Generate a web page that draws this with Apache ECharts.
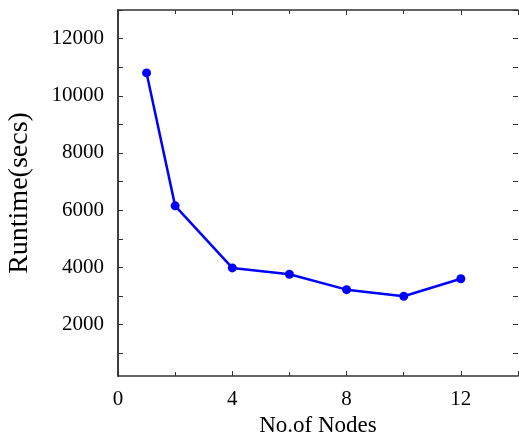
<!DOCTYPE html>
<html>
<head>
<meta charset="utf-8">
<script src="https://cdn.jsdelivr.net/npm/echarts@6/dist/echarts.min.js"></script>
<style>
  html, body { margin: 0; padding: 0; background: #fff; }
  #chart { width: 519px; height: 432px; }
</style>
</head>
<body>
<div id="chart"></div>
<script>
// runtime vs number of nodes
const nodes = [1, 2, 4, 6, 8, 10, 12];
const runtime = [10800, 6150, 3980, 3760, 3220, 2990, 3600];

const font = 'Liberation Serif';
const frame = '#333';

const yMin = 200, yMax = 13000;
// second grid only carries the y ticks/labels (1000..13000), lined up with the first
const gTop = 10, gBottom = 56;
const pxPer = (432 - gTop - gBottom) / (yMax - yMin);
const tickBottom = gBottom + (1000 - yMin) * pxPer;

const chart = echarts.init(document.getElementById('chart'));

const line = { show: true, lineStyle: { color: frame, width: 1.5 } };
const tick = { show: true, inside: true, length: 5, lineStyle: { color: frame } };
const minor = { show: true, splitNumber: 2, length: 4, lineStyle: { color: frame } };

chart.setOption({
    animation: false,
    grid: [
        { left: 118, right: 1, top: gTop, bottom: gBottom, outerBoundsMode: 'none' },
        { left: 118, right: 1, top: gTop, bottom: tickBottom, outerBoundsMode: 'none' }
    ],
    xAxis: [{
        type: 'value', min: 0, max: 14, interval: 4,
        name: 'No.of Nodes', nameLocation: 'middle', nameGap: 36,
        nameTextStyle: { fontFamily: font, fontSize: 23, color: '#000' },
        axisLine: line, axisTick: tick, minorTick: minor,
        axisLabel: { fontFamily: font, fontSize: 21, color: '#000', margin: 13,
            formatter: v => (v > 12 ? '' : String(v)) },
        splitLine: { show: false }
    }, {
        type: 'value', position: 'top', min: 0, max: 14, interval: 4,
        axisLine: line, axisTick: tick, minorTick: minor,
        axisLabel: { show: false }, splitLine: { show: false }
    }, {
        gridIndex: 1, type: 'value', min: 0, max: 14, show: false
    }],
    yAxis: [{
        type: 'value', min: yMin, max: yMax,
        name: 'Runtime(secs)', nameLocation: 'middle', nameGap: 84,
        nameTextStyle: { fontFamily: font, fontSize: 28, color: '#000' },
        axisLine: line, axisTick: { show: false }, axisLabel: { show: false },
        splitLine: { show: false }
    }, {
        type: 'value', position: 'right', min: yMin, max: yMax,
        axisLine: line, axisTick: { show: false }, axisLabel: { show: false },
        splitLine: { show: false }
    }, {
        gridIndex: 1, type: 'value', min: 1000, max: 13000, interval: 1000,
        axisLine: { show: false }, axisTick: tick,
        axisLabel: { fontFamily: font, fontSize: 21, color: '#000', margin: 14,
            formatter: v => (v % 2000 === 0 && v < 13000 ? String(v) : '') },
        splitLine: { show: false }
    }, {
        gridIndex: 1, type: 'value', position: 'right', min: 1000, max: 13000, interval: 1000,
        axisLine: { show: false }, axisTick: tick,
        axisLabel: { show: false }, splitLine: { show: false }
    }],
    series: [{
        type: 'line',
        data: nodes.map((n, i) => [n, runtime[i]]),
        symbol: 'circle', symbolSize: 9,
        lineStyle: { color: '#0000ff', width: 2.5 },
        itemStyle: { color: '#0000ff' }
    }]
});
</script>
</body>
</html>
